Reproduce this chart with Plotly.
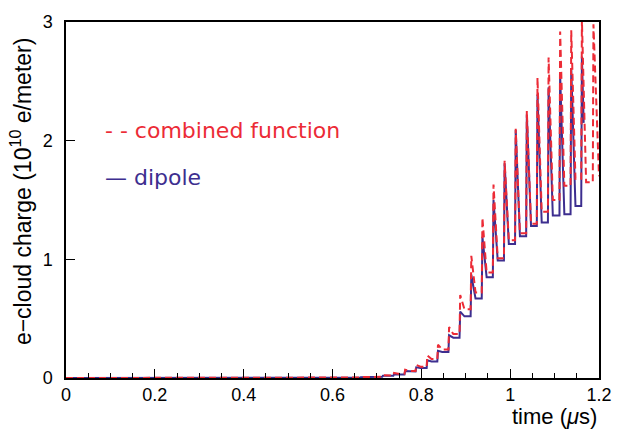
import plotly.graph_objects as go

# Bunch arrival times (µs) where the cloud charge jumps
rise_t = [0.588, 0.613, 0.637, 0.662, 0.687, 0.712, 0.737, 0.762, 0.787, 0.812,
          0.836, 0.861, 0.886, 0.911, 0.936, 0.961, 0.986, 1.011, 1.036, 1.060,
          1.085, 1.111, 1.136, 1.160, 1.186]

# Dipole: peak right after each bunch and level it relaxes to (10^10 e/m)
dipole_peak = [0.001, 0.002, 0.004, 0.007, 0.011, 0.018, 0.030, 0.058, 0.090, 0.150,
               0.230, 0.360, 0.560, 0.870, 1.190, 1.500, 1.810, 2.090, 2.220, 2.390,
               2.450, 2.560, 2.610, 2.710]
dipole_trough = [0.001, 0.002, 0.004, 0.007, 0.011, 0.018, 0.030, 0.055, 0.085, 0.140,
                 0.220, 0.340, 0.520, 0.670, 0.850, 0.990, 1.130, 1.195, 1.280, 1.310,
                 1.370, 1.380, 1.450]
dipole_end = (1.1655, 2.15)

# Combined function magnet
combined_peak = [0.001, 0.002, 0.004, 0.007, 0.012, 0.024, 0.042, 0.070, 0.110, 0.190,
                 0.280, 0.430, 0.700, 1.030, 1.350, 1.630, 1.830, 2.100, 2.250, 2.530,
                 2.700, 2.920, 2.930, 3.020, 2.980]
combined_trough = [0.001, 0.002, 0.004, 0.007, 0.011, 0.020, 0.035, 0.060, 0.095, 0.160,
                   0.240, 0.370, 0.580, 0.720, 0.890, 1.010, 1.160, 1.220, 1.300, 1.400,
                   1.500, 1.620, 1.680, 1.650]
combined_end = (1.2, 1.70)

x_ticks = [0, 0.2, 0.4, 0.6, 0.8, 1.0, 1.2]
x_tick_text = ["0", "0.2", "0.4", "0.6", "0.8", "1", "1.2"]
y_ticks = [0, 1, 2, 3]
y_tick_text = ["0", "1", "2", "3"]

RED = "#ec2b36"
BLUE = "#3d2e8f"
RISE = 0.0015   # duration of the jump at a bunch passage
DECAY = 0.011   # time to relax back to the inter-bunch level


def pulse_path(times, peaks, troughs, end):
    xs, ys = [0.0], [0.0]
    level = 0.0
    for i, (t, p) in enumerate(zip(times, peaks)):
        xs += [t, t + RISE]
        ys += [level, p]
        if i < len(troughs):
            level = troughs[i]
            xs.append(t + DECAY)
            ys.append(level)
    xs.append(end[0])
    ys.append(end[1])
    return xs, ys


dx, dy = pulse_path(rise_t, dipole_peak, dipole_trough, dipole_end)
cx, cy = pulse_path(rise_t, combined_peak, combined_trough, combined_end)

fig = go.Figure()
fig.add_trace(go.Scatter(x=dx, y=dy, mode="lines", name="dipole",
                         line=dict(color=BLUE, width=2)))
fig.add_trace(go.Scatter(x=cx, y=cy, mode="lines", name="combined function",
                         line=dict(color=RED, width=2, dash="7px,4px")))

SANS = "Liberation Sans, Arial, sans-serif"
tick_font = dict(family=SANS, size=18, color="black")
fig.update_layout(
    width=626, height=431,
    margin=dict(l=66, r=27, t=15, b=53),
    paper_bgcolor="white", plot_bgcolor="white",
    showlegend=False,
    xaxis=dict(range=[0, 1.2], tickvals=x_ticks, ticktext=x_tick_text,
               ticks="inside", ticklen=9, tickwidth=1.2, tickcolor="black",
               minor=dict(dtick=0.05, ticks="inside", ticklen=5, tickwidth=1, tickcolor="black"),
               showline=True, linecolor="black", linewidth=1.5, mirror=True,
               showgrid=False, zeroline=False, tickfont=tick_font),
    yaxis=dict(range=[0, 3], tickvals=y_ticks, ticktext=y_tick_text,
               ticks="inside", ticklen=9, tickwidth=1.2, tickcolor="black",
               showline=True, linecolor="black", linewidth=1.5, mirror=True,
               showgrid=False, zeroline=False, tickfont=tick_font,
               ticklabelstandoff=8),
)

fig.add_annotation(text="e\u2212cloud charge (10<sup>10</sup> e/meter)",
                   xref="paper", yref="paper", x=0, y=0.525, xshift=-45,
                   xanchor="center", yanchor="middle", textangle=-90, showarrow=False,
                   font=dict(family=SANS, size=23, color="black"))
fig.add_annotation(text="time (<i>\u03bc</i>s)",
                   xref="paper", yref="paper", x=1, y=-0.108,
                   xanchor="right", yanchor="middle", showarrow=False,
                   font=dict(family=SANS, size=22, color="black"))

legend_font = "DejaVu Sans, Verdana, sans-serif"
fig.add_annotation(text="- - combined function",
                   xref="paper", yref="paper", x=0.069, y=0.695,
                   xanchor="left", yanchor="middle", showarrow=False,
                   font=dict(family=legend_font, size=22, color=RED))
fig.add_annotation(text="\u2014 dipole",
                   xref="paper", yref="paper", x=0.069, y=0.563,
                   xanchor="left", yanchor="middle", showarrow=False,
                   font=dict(family=legend_font, size=22, color=BLUE))

fig.write_html("out.html")
